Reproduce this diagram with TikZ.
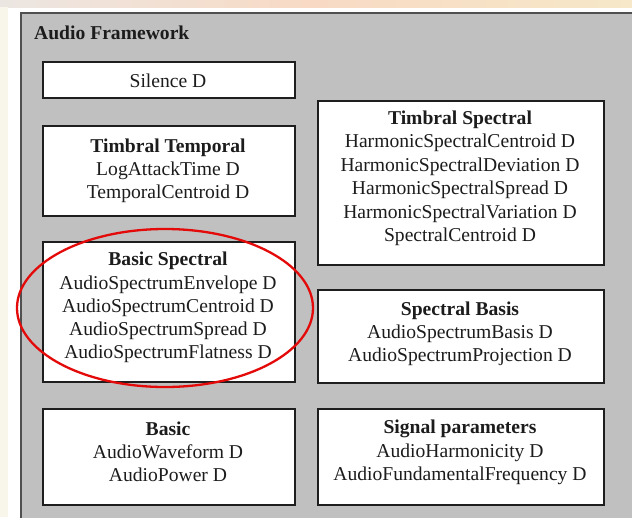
\documentclass[tikz,border=0pt]{standalone}
\usepackage{fontspec}
\setmainfont{Liberation Serif}
\usetikzlibrary{shapes.geometric}
\definecolor{panelgray}{RGB}{192,192,192}
\definecolor{panelborder}{RGB}{80,80,80}
\definecolor{boxborder}{RGB}{30,30,30}
\definecolor{txt}{RGB}{28,28,28}
\definecolor{ringred}{RGB}{228,10,10}
\definecolor{stripA}{RGB}{236,230,226}
\definecolor{stripB}{RGB}{248,218,196}
\definecolor{stripC}{RGB}{246,232,200}
\definecolor{leftstrip}{RGB}{248,246,234}
\begin{document}
\begin{tikzpicture}[x=1pt,y=-1pt,
  box/.style={draw=boxborder,fill=white,line width=1.8pt,inner sep=0pt,anchor=north west},
  lbl/.style={align=center,text=txt,font=\fontsize{19.6pt}{23.2pt}\selectfont,inner sep=0pt},
  ring/.style={draw=ringred,line width=2.3pt,ellipse,inner sep=0pt}
]
\useasboundingbox (0,0) rectangle (632,517);
\fill[white] (0,0) rectangle (632,517);
\shade[left color=stripA,right color=stripC,middle color=stripB] (0,0) rectangle (632,7);
\fill[leftstrip] (0,7) rectangle (8,517);
\filldraw[fill=panelgray,draw=panelborder,line width=2pt] (21,13) rectangle (650,540);

\node[lbl,anchor=base west,font=\fontsize{19.6pt}{23pt}\selectfont\bfseries] (title) at (34,39.5) {Audio Framework};

% left column boxes
\node[box,minimum width=252pt,minimum height=36pt] (silence) at (42,61) {};
\node[box,minimum width=252pt,minimum height=90pt] (ttemp) at (42,125) {};
\node[box,minimum width=252pt,minimum height=140pt] (bspec) at (42,241) {};
\node[box,minimum width=252pt,minimum height=96pt] (basic) at (42,408) {};
% right column boxes
\node[box,minimum width=286pt,minimum height=164pt] (tspec) at (317,100) {};
\node[box,minimum width=286pt,minimum height=93pt] (sbasis) at (317,289) {};
\node[box,minimum width=286pt,minimum height=96pt] (sigpar) at (317,408) {};

% texts
\node[lbl] (silenceT) at (168,80.5) {Silence D};
\node[lbl] (ttempT) at (168,170.5) {\textbf{Timbral Temporal}\\LogAttackTime D\\TemporalCentroid D};
\node[lbl] (bspecT) at (168,307.5) {\textbf{Basic Spectral}\\AudioSpectrumEnvelope D\\AudioSpectrumCentroid D\\AudioSpectrumSpread D\\AudioSpectrumFlatness D};
\node[lbl] (basicT) at (168,451.5) {\textbf{Basic}\\AudioWaveform D\\AudioPower D};
\node[lbl,font=\fontsize{19.6pt}{23.5pt}\selectfont] (tspecT) at (460,178.5) {\textbf{Timbral Spectral}\\HarmonicSpectralCentroid D\\HarmonicSpectralDeviation D\\HarmonicSpectralSpread D\\HarmonicSpectralVariation D\\SpectralCentroid D};
\node[lbl] (sbasisT) at (460,333.5) {\textbf{Spectral Basis}\\AudioSpectrumBasis D\\AudioSpectrumProjection D};
\node[lbl] (sigparT) at (460,452.5) {\textbf{Signal parameters}\\AudioHarmonicity D\\AudioFundamentalFrequency D};

% red highlight ellipse
\node[ring,minimum width=296pt,minimum height=158pt] (ring) at (165,308) {};
\end{tikzpicture}
\end{document}
